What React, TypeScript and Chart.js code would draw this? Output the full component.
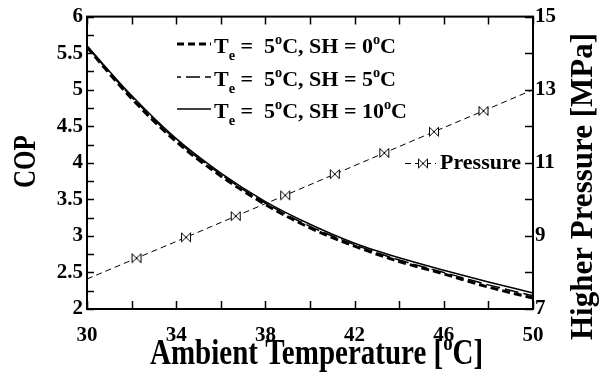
import React, { useEffect, useRef } from 'react';
import { Chart, registerables } from 'chart.js';

Chart.register(...registerables);

// ---------- data ----------
const temps = [30, 32, 34, 36, 38, 40, 42, 44, 46, 48, 50];
const copSH0 = [5.58, 4.88, 4.29, 3.82, 3.43, 3.11, 2.86, 2.65, 2.48, 2.30, 2.15];
const copSH5 = [5.59, 4.90, 4.31, 3.84, 3.45, 3.13, 2.88, 2.67, 2.50, 2.33, 2.18];
const copSH10 = [5.60, 4.92, 4.33, 3.86, 3.47, 3.16, 2.90, 2.70, 2.53, 2.37, 2.22];
const pressureTemps = [30, 32.22, 34.44, 36.67, 38.89, 41.11, 43.33, 45.56, 47.78, 50];
const pressure = [7.82, 8.39, 8.96, 9.54, 10.11, 10.69, 11.27, 11.85, 12.42, 13.0];
const pressureMarkerShown = [false, true, true, true, true, true, true, true, true, false];

const xMin = 30, xMax = 50, xStep = 4, xMinorStep = 2;
const copMin = 2, copMax = 6, copStep = 0.5, copMinorStep = 0.25;
const pMin = 7, pMax = 15, pStep = 2, pMinorStep = 1;

type Seg = { t: string; s?: 'sub' | 'sup' };
const legendSH0: Seg[] = [{ t: 'T' }, { t: 'e', s: 'sub' }, { t: ' =  5' }, { t: 'o', s: 'sup' }, { t: 'C, SH = 0' }, { t: 'o', s: 'sup' }, { t: 'C' }];
const legendSH5: Seg[] = [{ t: 'T' }, { t: 'e', s: 'sub' }, { t: ' =  5' }, { t: 'o', s: 'sup' }, { t: 'C, SH = 5' }, { t: 'o', s: 'sup' }, { t: 'C' }];
const legendSH10: Seg[] = [{ t: 'T' }, { t: 'e', s: 'sub' }, { t: ' =  5' }, { t: 'o', s: 'sup' }, { t: 'C, SH = 10' }, { t: 'o', s: 'sup' }, { t: 'C' }];
const legendPressure = 'Pressure';
const xTitle: Seg[] = [{ t: 'Ambient Temperature [' }, { t: 'o', s: 'sup' }, { t: 'C]' }];
const yTitle = 'COP';
const y1Title = 'Higher Pressure [MPa]';

const FONT = '"Liberation Serif", "Times New Roman", serif';

function makeBowtie(): HTMLCanvasElement {
  const c = document.createElement('canvas');
  c.width = 12;
  c.height = 12;
  const g = c.getContext('2d')!;
  g.strokeStyle = '#000';
  g.fillStyle = '#fff';
  g.lineWidth = 1;
  g.beginPath();
  g.moveTo(1.5, 1.5);
  g.lineTo(10.5, 10.5);
  g.lineTo(10.5, 1.5);
  g.lineTo(1.5, 10.5);
  g.closePath();
  g.fill();
  g.stroke();
  return c;
}

function drawRich(ctx: CanvasRenderingContext2D, segs: Seg[], x: number, y: number, size: number) {
  let cx = x;
  for (const seg of segs) {
    const sz = seg.s ? size * 0.65 : size;
    ctx.font = `bold ${sz}px ${FONT}`;
    const dy = seg.s === 'sub' ? size * 0.32 : seg.s === 'sup' ? -size * 0.4 : 0;
    ctx.fillText(seg.t, cx, y + dy);
    cx += ctx.measureText(seg.t).width;
  }
}

export default function App() {
  const ref = useRef<HTMLCanvasElement | null>(null);

  useEffect(() => {
    if (!ref.current) return;
    const bowtie = makeBowtie();

    const decorations = {
      id: 'decorations',
      afterDraw(chart: any) {
        const ctx: CanvasRenderingContext2D = chart.ctx;
        const { left, right, top, bottom } = chart.chartArea;
        const xs = chart.scales.x;
        const ys = chart.scales.y;
        const y1s = chart.scales.y1;
        ctx.save();
        ctx.strokeStyle = '#000';
        ctx.fillStyle = '#000';
        ctx.setLineDash([]);

        // tick marks (inside)
        ctx.lineWidth = 1.5;
        ctx.beginPath();
        for (let v = xMin; v <= xMax + 1e-9; v += xMinorStep) {
          const px = Math.round(xs.getPixelForValue(v)) + 0.5;
          ctx.moveTo(px, bottom);
          ctx.lineTo(px, bottom - 8);
          ctx.moveTo(px, top);
          ctx.lineTo(px, top + 8);
        }
        for (let v = copMin; v <= copMax + 1e-9; v += copMinorStep) {
          const py = Math.round(ys.getPixelForValue(v)) + 0.5;
          ctx.moveTo(left, py);
          ctx.lineTo(left + 7, py);
        }
        for (let v = pMin; v <= pMax + 1e-9; v += pMinorStep) {
          const py = Math.round(y1s.getPixelForValue(v)) + 0.5;
          ctx.moveTo(right, py);
          ctx.lineTo(right - 8, py);
        }
        ctx.stroke();

        // frame
        ctx.lineWidth = 2;
        ctx.strokeRect(left, top, right - left, bottom - top);

        // legend (COP curves)
        const lx0 = 177, lx1 = 211, tx = 214;
        const rows: { segs: Seg[]; y: number; w: number; dash: number[]; off: number }[] = [
          { segs: legendSH0, y: 44, w: 3, dash: [7, 4], off: 0 },
          { segs: legendSH5, y: 77, w: 1.5, dash: [14, 5], off: 10 },
          { segs: legendSH10, y: 109, w: 1.5, dash: [], off: 0 },
        ];
        for (const r of rows) {
          ctx.lineWidth = r.w;
          ctx.setLineDash(r.dash);
          ctx.lineDashOffset = r.off;
          ctx.beginPath();
          ctx.moveTo(lx0, r.y);
          ctx.lineTo(lx1, r.y);
          ctx.stroke();
          ctx.setLineDash([]);
          ctx.textBaseline = 'alphabetic';
          ctx.textAlign = 'left';
          drawRich(ctx, r.segs, tx, r.y + 9, 22);
        }

        // legend (pressure)
        ctx.lineWidth = 1;
        ctx.setLineDash([6, 4]);
        ctx.lineDashOffset = 0;
        ctx.beginPath();
        ctx.moveTo(405, 163.5);
        ctx.lineTo(436, 163.5);
        ctx.stroke();
        ctx.setLineDash([]);
        ctx.drawImage(bowtie, 423 - bowtie.width / 2, 163.5 - bowtie.height / 2);
        ctx.font = `bold 22px ${FONT}`;
        ctx.fillText(legendPressure, 440, 169);

        // x title
        ctx.save();
        ctx.translate(150, 364);
        ctx.scale(1, 1.2);
        drawRich(ctx, xTitle, 0, 0, 29);
        ctx.restore();

        // left y title
        ctx.save();
        ctx.translate(35, 188);
        ctx.rotate(-Math.PI / 2);
        ctx.scale(1, 1.3);
        ctx.font = `bold 25px ${FONT}`;
        ctx.fillText(yTitle, 0, 0);
        ctx.restore();

        // right y title
        ctx.save();
        ctx.translate(592, 340);
        ctx.rotate(-Math.PI / 2);
        ctx.font = `bold 31px ${FONT}`;
        ctx.fillText(y1Title, 0, 0);
        ctx.restore();

        ctx.restore();
      },
    };

    const tickFont = { family: FONT, size: 21, weight: 'bold' as const };
    const fmt = (v: any) => String(Number(v));

    const chart = new Chart(ref.current, {
      type: 'line',
      data: {
        datasets: [
          {
            label: 'SH = 0',
            data: temps.map((t, i) => ({ x: t, y: copSH0[i] })),
            borderColor: '#000',
            borderWidth: 3,
            borderDash: [8, 4],
            pointRadius: 0,
            cubicInterpolationMode: 'monotone',
            yAxisID: 'y',
          },
          {
            label: 'SH = 5',
            data: temps.map((t, i) => ({ x: t, y: copSH5[i] })),
            borderColor: '#000',
            borderWidth: 1.5,
            borderDash: [14, 5],
            pointRadius: 0,
            cubicInterpolationMode: 'monotone',
            yAxisID: 'y',
          },
          {
            label: 'SH = 10',
            data: temps.map((t, i) => ({ x: t, y: copSH10[i] })),
            borderColor: '#000',
            borderWidth: 1.5,
            pointRadius: 0,
            cubicInterpolationMode: 'monotone',
            yAxisID: 'y',
          },
          {
            label: 'Pressure',
            data: pressureTemps.map((t, i) => ({ x: t, y: pressure[i] })),
            borderColor: '#000',
            borderWidth: 1,
            borderDash: [6, 4],
            pointStyle: bowtie as any,
            pointRadius: pressureMarkerShown.map((s) => (s ? 5 : 0)),
            yAxisID: 'y1',
          },
        ],
      },
      options: {
        animation: false,
        responsive: false,
        events: [],
        layout: { padding: { top: 16, left: 0, right: 0, bottom: 0 } },
        plugins: { legend: { display: false }, tooltip: { enabled: false }, title: { display: false } },
        scales: {
          x: {
            type: 'linear',
            min: xMin,
            max: xMax,
            grid: { display: false, drawTicks: false },
            border: { display: false },
            ticks: { stepSize: xStep, font: tickFont, color: '#000', padding: 14, maxRotation: 0, callback: fmt },
            afterFit: (s: any) => { s.height = 69; },
          },
          y: {
            type: 'linear',
            position: 'left',
            min: copMin,
            max: copMax,
            grid: { display: false, drawTicks: false },
            border: { display: false },
            ticks: { stepSize: copStep, font: tickFont, color: '#000', padding: 4, callback: fmt },
            afterFit: (s: any) => { s.width = 87; },
          },
          y1: {
            type: 'linear',
            position: 'right',
            min: pMin,
            max: pMax,
            grid: { display: false, drawTicks: false },
            border: { display: false },
            ticks: { stepSize: pStep, font: tickFont, color: '#000', padding: 2, callback: fmt },
            afterFit: (s: any) => { s.width = 73; },
          },
        },
      },
      plugins: [decorations],
    });
    return () => chart.destroy();
  }, []);

  return (
    <div style={{ position: 'absolute', left: 0, top: 0, width: 606, height: 378, background: '#fff' }}>
      <canvas ref={ref} width={606} height={378} style={{ display: 'block' }} />
    </div>
  );
}
